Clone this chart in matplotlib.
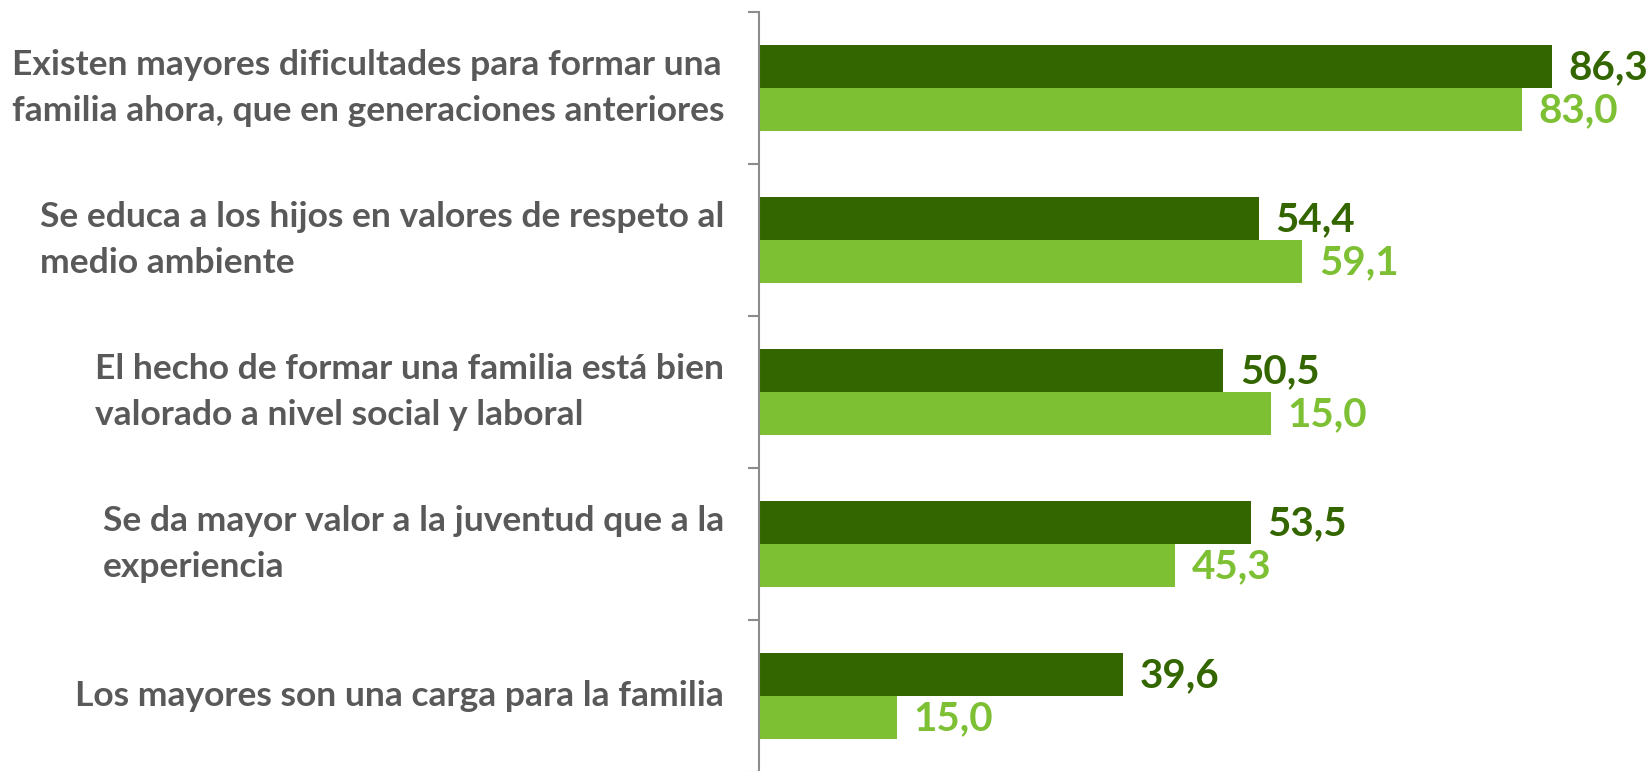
import matplotlib
matplotlib.use("Agg")
import matplotlib.pyplot as plt
import numpy as np

categories = [
    "Existen mayores dificultades para formar una\nfamilia ahora, que en generaciones anteriores",
    "Se educa a los hijos en valores de respeto al\nmedio ambiente",
    "El hecho de formar una familia está bien\nvalorado a nivel social y laboral",
    "Se da mayor valor a la juventud que a la\nexperiencia",
    "Los mayores son una carga para la familia",
]
dark_values = [86.3, 54.4, 50.5, 53.5, 39.6]
light_values = [83.0, 59.1, 55.7, 45.3, 15.0]
dark_labels = ["86,3", "54,4", "50,5", "53,5", "39,6"]
light_labels = ["83,0", "59,1", "15,0", "45,3", "15,0"]

DARK = "#346600"
LIGHT = "#7DC034"
TEXT = "#595959"
AXIS = "#8C8C8C"

W, H = 1647, 771
fig = plt.figure(figsize=(W / 100, H / 100), dpi=100)
left_px, top_px, bottom_px = 759, 12, 772
ax = fig.add_axes([left_px / W, 1 - bottom_px / H, (W - left_px) / W, (bottom_px - top_px) / H])

y = np.arange(len(categories))
bh = 0.286
ax.barh(y - bh / 2, dark_values, height=bh, color=DARK)
ax.barh(y + bh / 2, light_values, height=bh, color=LIGHT)

for yi, v, lab in zip(y, dark_values, dark_labels):
    ax.annotate(lab, (v, yi - bh / 2), xytext=(12, -1), textcoords="offset points",
                va="center", ha="left", fontsize=29, fontweight="bold", color=DARK,
                family="Lato", annotation_clip=False)
for yi, v, lab in zip(y, light_values, light_labels):
    ax.annotate(lab, (v, yi + bh / 2), xytext=(12, -1), textcoords="offset points",
                va="center", ha="left", fontsize=29, fontweight="bold", color=LIGHT,
                family="Lato", annotation_clip=False)

ax.set_xlim(0, (W - left_px) / 9.19)
ax.set_ylim(len(categories) - 0.5, -0.5)

for s in ["top", "right", "bottom"]:
    ax.spines[s].set_visible(False)
ax.spines["left"].set_color(AXIS)
ax.spines["left"].set_linewidth(1.5)
ax.set_xticks([])

ax.set_yticks(y)
ax.set_yticklabels([])
ax.tick_params(axis="y", which="major", length=0)
ax.set_yticks(np.arange(len(categories) + 1) - 0.5, minor=True)
ax.tick_params(axis="y", which="minor", length=8, width=1.5, color=AXIS, direction="out")

for yi, lab in zip(y, categories):
    ax.annotate(lab, (0, yi), xycoords=("axes fraction", "data"), xytext=(-25, 0),
                textcoords="offset points", ha="right", va="center", multialignment="left",
                fontsize=25.5, fontweight="bold", color=TEXT, family="Lato",
                linespacing=1.56, annotation_clip=False)

fig.savefig("out.png", dpi=100)
